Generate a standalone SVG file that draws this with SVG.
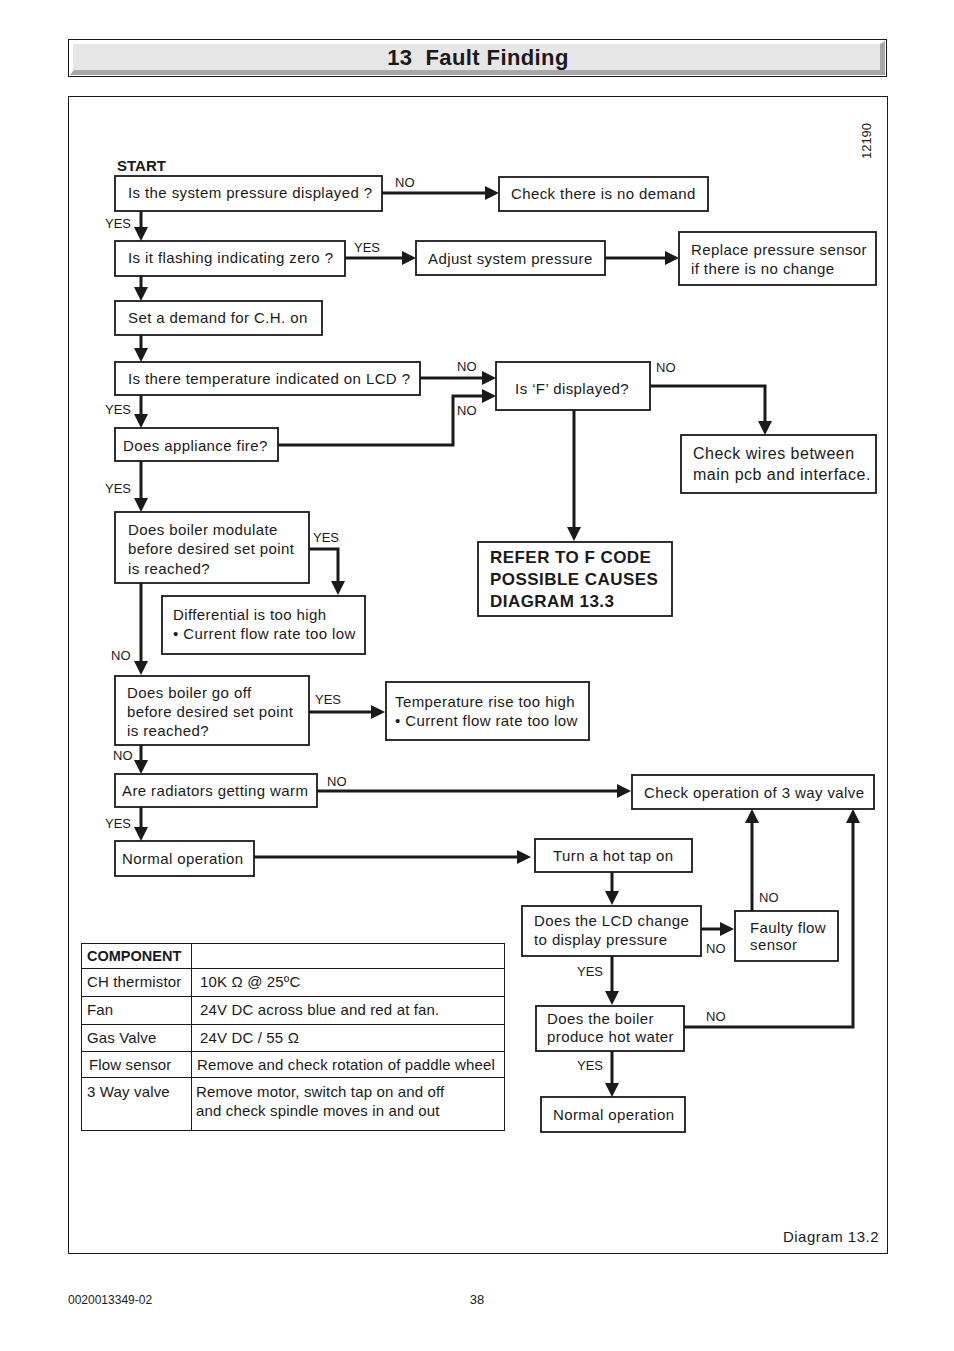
<svg xmlns="http://www.w3.org/2000/svg" width="954" height="1351" viewBox="0 0 954 1351">
<defs>
<marker id="ah" viewBox="0 0 14 14" refX="10" refY="7" markerWidth="14" markerHeight="14" markerUnits="userSpaceOnUse" orient="auto"><path d="M0,0 L14,7 L0,14 z" fill="#1a1a1a"/></marker>
</defs>
<style>
text{font-family:"Liberation Sans",Arial,sans-serif;fill:#1a1a1a}
.t{font-size:15px;letter-spacing:0.4px}
.tt{font-size:15px;letter-spacing:0.15px}
.s{font-size:13px}
.b{font-weight:bold}
.box{fill:#fff;stroke:#1a1a1a;stroke-width:1.8}
.c{fill:none;stroke:#1a1a1a;stroke-width:3;marker-end:url(#ah)}
.tb{fill:none;stroke:#1a1a1a;stroke-width:1}
</style>
<rect width="954" height="1351" fill="#fff"/>
<g id="header">
<rect x="68.5" y="39.5" width="818" height="37" fill="#fff" stroke="#1a1a1a" stroke-width="1"/>
<rect x="73" y="44" width="807" height="26" fill="#e6e6e6"/>
<polygon points="70,75 885,75 885,41 880,44 880,70 74,70" fill="#a8a8a8"/>
<text x="478" y="65" text-anchor="middle" class="b" style="font-size:22px;letter-spacing:0.4px;white-space:pre" xml:space="preserve">13  Fault Finding</text>
</g>
<rect x="68.5" y="96.5" width="819" height="1157" fill="none" stroke="#1a1a1a" stroke-width="1"/>
<text transform="translate(871,141) rotate(-90)" text-anchor="middle" class="s">12190</text>
<text x="117" y="171" class="b" style="font-size:15px">START</text>

<g id="connectors">
<path class="c" d="M382,193 H495"/>
<path class="c" d="M141,211 V237"/>
<path class="c" d="M345,258 H412"/>
<path class="c" d="M605,258 H675"/>
<path class="c" d="M141,276 V297"/>
<path class="c" d="M141,335 V358"/>
<path class="c" d="M420,378 H492"/>
<path class="c" d="M141,395 V424"/>
<path class="c" d="M278,445 H453 V396 H492"/>
<path class="c" d="M650,386 H765 V431"/>
<path class="c" d="M574,410 V537"/>
<path class="c" d="M141,461 V508"/>
<path class="c" d="M309,549 H338 V591"/>
<path class="c" d="M141,583 V671"/>
<path class="c" d="M309,712 H381"/>
<path class="c" d="M141,745 V770"/>
<path class="c" d="M317,791 H627"/>
<path class="c" d="M141,807 V837"/>
<path class="c" d="M254,857 H527"/>
<path class="c" d="M612,872 V901"/>
<path class="c" d="M701,929 H730"/>
<path class="c" d="M752,911 V813"/>
<path class="c" d="M612,956 V1001"/>
<path class="c" d="M684,1027 H853 V813"/>
<path class="c" d="M612,1051 V1093"/>
</g>

<g id="labels" class="s">
<text x="395" y="187">NO</text>
<text x="105" y="228">YES</text>
<text x="354" y="252">YES</text>
<text x="457" y="371">NO</text>
<text x="105" y="414">YES</text>
<text x="457" y="415">NO</text>
<text x="656" y="372">NO</text>
<text x="105" y="493">YES</text>
<text x="313" y="542">YES</text>
<text x="111" y="660">NO</text>
<text x="315" y="704">YES</text>
<text x="113" y="760">NO</text>
<text x="327" y="786">NO</text>
<text x="105" y="828">YES</text>
<text x="706" y="953">NO</text>
<text x="759" y="902">NO</text>
<text x="577" y="976">YES</text>
<text x="706" y="1021">NO</text>
<text x="577" y="1070">YES</text>
</g>

<g id="n1"><rect class="box" x="115" y="176" width="267" height="35"/><text class="t" x="128" y="198">Is the system pressure displayed ?</text></g>
<g id="n2"><rect class="box" x="499" y="177" width="209" height="34"/><text class="t" x="511" y="199">Check there is no demand</text></g>
<g id="n3"><rect class="box" x="115" y="241" width="230" height="35"/><text class="t" x="128" y="263">Is it flashing indicating zero ?</text></g>
<g id="n4"><rect class="box" x="416" y="241" width="189" height="34"/><text class="t" x="428" y="264">Adjust system pressure</text></g>
<g id="n5"><rect class="box" x="679" y="232" width="197" height="53"/><text class="t" x="691" y="255">Replace pressure sensor</text><text class="t" x="691" y="274">if there is no change</text></g>
<g id="n6"><rect class="box" x="115" y="301" width="207" height="34"/><text class="t" x="128" y="323">Set a demand for C.H. on</text></g>
<g id="n7"><rect class="box" x="115" y="362" width="305" height="33"/><text class="t" x="128" y="384">Is there temperature indicated on LCD ?</text></g>
<g id="n8"><rect class="box" x="496" y="362" width="154" height="48"/><text class="t" x="572" y="394" text-anchor="middle">Is ‘F’ displayed?</text></g>
<g id="n9"><rect class="box" x="115" y="428" width="163" height="33"/><text class="t" x="123" y="451">Does appliance fire?</text></g>
<g id="n10"><rect class="box" x="681" y="435" width="195" height="58"/><text x="693" y="459" style="font-size:16px;letter-spacing:0.5px">Check wires between</text><text x="693" y="480" style="font-size:16px;letter-spacing:0.5px">main pcb and interface.</text></g>
<g id="n11"><rect class="box" x="478" y="542" width="194" height="74"/><text class="b" x="490" y="563" style="font-size:17px;letter-spacing:0.45px">REFER TO F CODE</text><text class="b" x="490" y="585" style="font-size:17px;letter-spacing:0.45px">POSSIBLE CAUSES</text><text class="b" x="490" y="607" style="font-size:17px;letter-spacing:0.45px">DIAGRAM 13.3</text></g>
<g id="n12"><rect class="box" x="115" y="512" width="194" height="71"/><text class="t" x="128" y="535">Does boiler modulate</text><text class="t" x="128" y="554">before desired set point</text><text class="t" x="128" y="574">is reached?</text></g>
<g id="n13"><rect class="box" x="162" y="596" width="203" height="58"/><text class="t" x="173" y="620">Differential is too high</text><text class="t" x="173" y="639">• Current flow rate too low</text></g>
<g id="n14"><rect class="box" x="115" y="676" width="194" height="69"/><text class="t" x="127" y="698">Does boiler go off</text><text class="t" x="127" y="717">before desired set point</text><text class="t" x="127" y="736">is reached?</text></g>
<g id="n15"><rect class="box" x="386" y="682" width="203" height="58"/><text class="t" x="395" y="707">Temperature rise too high</text><text class="t" x="395" y="726">• Current flow rate too low</text></g>
<g id="n16"><rect class="box" x="115" y="774" width="202" height="33"/><text class="t" x="122" y="796">Are radiators getting warm</text></g>
<g id="n17"><rect class="box" x="632" y="775" width="242" height="34"/><text class="t" x="644" y="798">Check operation of 3 way valve</text></g>
<g id="n18"><rect class="box" x="115" y="841" width="139" height="35"/><text class="t" x="122" y="864">Normal operation</text></g>
<g id="n19"><rect class="box" x="535" y="839" width="157" height="33"/><text class="t" x="553" y="861">Turn a hot tap on</text></g>
<g id="n20"><rect class="box" x="522" y="906" width="179" height="50"/><text class="t" x="534" y="926">Does the LCD change</text><text class="t" x="534" y="945">to display pressure</text></g>
<g id="n21"><rect class="box" x="735" y="911" width="103" height="50"/><text class="t" x="750" y="933">Faulty flow</text><text class="t" x="750" y="950">sensor</text></g>
<g id="n22"><rect class="box" x="536" y="1006" width="148" height="45"/><text class="t" x="547" y="1024">Does the boiler</text><text class="t" x="547" y="1042">produce hot water</text></g>
<g id="n23"><rect class="box" x="541" y="1097" width="144" height="35"/><text class="t" x="553" y="1120">Normal operation</text></g>

<g id="table">
<rect class="tb" x="81.5" y="943.5" width="423" height="187"/>
<path class="tb" d="M191.5,943.5 V1130.5 M81.5,968.5 H504.5 M81.5,996.5 H504.5 M81.5,1024.5 H504.5 M81.5,1051.5 H504.5 M81.5,1077.5 H504.5"/>
<text class="b" x="87" y="961" style="font-size:14.5px">COMPONENT</text>
<text class="tt" x="87" y="987">CH thermistor</text><text class="tt" x="200" y="987">10K Ω @ 25ºC</text>
<text class="tt" x="87" y="1015">Fan</text><text class="tt" x="200" y="1015">24V DC across blue and red at fan.</text>
<text class="tt" x="87" y="1043">Gas Valve</text><text class="tt" x="200" y="1043">24V DC / 55 Ω</text>
<text class="tt" x="89" y="1070">Flow sensor</text><text class="tt" x="197" y="1070">Remove and check rotation of paddle wheel</text>
<text class="tt" x="87" y="1097">3 Way valve</text><text class="tt" x="196" y="1097">Remove motor, switch tap on and off</text><text class="tt" x="196" y="1116">and check spindle moves in and out</text>
</g>

<text x="879" y="1242" text-anchor="end" style="font-size:15px;letter-spacing:0.5px">Diagram 13.2</text>
<text x="68" y="1304" style="font-size:12px">0020013349-02</text>
<text x="477" y="1304" text-anchor="middle" style="font-size:13px">38</text>
</svg>
